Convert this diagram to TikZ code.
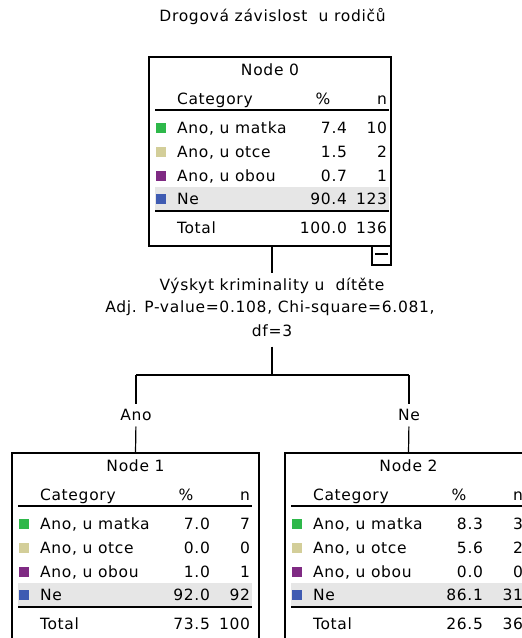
\documentclass[tikz,border=0pt]{standalone}
\usepackage{fontspec}
\setmainfont{DejaVu Sans}[LetterSpace=4.5]
\usetikzlibrary{calc}
\definecolor{cgreen}{HTML}{2EB84A}
\definecolor{ctan}{HTML}{D3CE99}
\definecolor{cpurple}{HTML}{7F2A83}
\definecolor{cblue}{HTML}{3F5BB2}
\definecolor{cband}{HTML}{E6E6E6}
\tikzset{
  txt/.style={inner sep=0pt, outer sep=0pt, text height=11bp, text depth=0bp,
              font=\fontsize{15.5bp}{18bp}\selectfont},
  boxst/.style={draw=black, line width=1.2bp, inner sep=0pt, outer sep=0pt, fill=none},
  rule/.style={line width=1.2bp},
  conn/.style={line width=1.2bp},
}
% #1 name, #2 width, #3 title
\newcommand{\tablehead}[3]{%
  \fill[cband] (6,130) rectangle (240,153);
  \node[boxst, minimum width=#2bp, minimum height=189bp, anchor=north west] (#1) at (0,0) {};
  \node[txt] (#1-t) at (#2/2,13) {#3};
  \node[txt, anchor=west] (#1-cat) at (28,42) {Category};
  \node[txt] (#1-pc) at (174,42) {\%};
  \node[txt, anchor=east] (#1-nn) at (238,42) {n};
  \draw[rule] (6,53) -- (240,53);
  \draw[rule] (6,154) -- (240,154);
}
% #1 id, #2 y, #3 colour, #4 label, #5 percent, #6 n
\newcommand{\trow}[6]{%
  \fill[#3] (6.5,#2-5) rectangle (16.5,#2+5);
  \node[txt, anchor=west] (#1-l) at (28,#2) {#4};
  \node[txt, anchor=east] (#1-p) at (198,#2) {#5};
  \node[txt, anchor=east] (#1-n) at (238,#2) {#6};
}
% #1 id, #2 percent, #3 n
\newcommand{\ttotal}[3]{%
  \node[txt, anchor=west] (#1-l) at (28,171) {Total};
  \node[txt, anchor=east] (#1-p) at (198,171) {#2};
  \node[txt, anchor=east] (#1-n) at (238,171) {#3};
}
\begin{document}
\begin{tikzpicture}[x=1bp, y=-1bp]
\path[use as bounding box] (0,0) rectangle (522,638);
\clip (0,0) rectangle (522,638);

\node[txt] (title) at (272.5,16) {Drogová závislost\ \ u rodičů};

% Node 0
\begin{scope}[shift={(149,57)}]
  \tablehead{n0}{242}{Node 0}
  \trow{n0a}{71}{cgreen}{Ano, u matka}{7.4}{10}
  \trow{n0b}{95}{ctan}{Ano, u otce}{1.5}{2}
  \trow{n0c}{119}{cpurple}{Ano, u obou}{0.7}{1}
  \trow{n0d}{142}{cblue}{Ne}{90.4}{123}
  \ttotal{n0tot}{100.0}{136}
\end{scope}
\node[boxst, minimum width=19bp, minimum height=19bp, anchor=north east] (m0) at (n0.south east) {};
\draw[line width=1.3bp] ($(m0.center)+(-6.5,-1.5)$) -- ($(m0.center)+(6.5,-1.5)$);

% Node 1
\begin{scope}[shift={(12,453)}]
  \tablehead{n1}{247}{Node 1}
  \trow{n1a}{71}{cgreen}{Ano, u matka}{7.0}{7}
  \trow{n1b}{95}{ctan}{Ano, u otce}{0.0}{0}
  \trow{n1c}{119}{cpurple}{Ano, u obou}{1.0}{1}
  \trow{n1d}{142}{cblue}{Ne}{92.0}{92}
  \ttotal{n1tot}{73.5}{100}
\end{scope}

% Node 2
\begin{scope}[shift={(285,453)}]
  \tablehead{n2}{247}{Node 2}
  \trow{n2a}{71}{cgreen}{Ano, u matka}{8.3}{3}
  \trow{n2b}{95}{ctan}{Ano, u otce}{5.6}{2}
  \trow{n2c}{119}{cpurple}{Ano, u obou}{0.0}{0}
  \trow{n2d}{142}{cblue}{Ne}{86.1}{31}
  \ttotal{n2tot}{26.5}{36}
\end{scope}

% split label
\node[txt] (s1) at (272,285) {Výskyt kriminality u\ \ dítěte};
\node[txt] (s2) at (270,307) {Adj. P-value=0.108, Chi-square=6.081,};
\node[txt] (s3) at (272,331) {df=3};
\coordinate (j) at (272,375);
\node[txt] (ano) at (136,415) {Ano};
\node[txt] (ne) at (409,415) {Ne};
\coordinate (jl) at (ano.north |- j);
\coordinate (jr) at (ne.north |- j);

\draw[conn, shorten >=7bp] (n0.south -| s1.north) -- (s1.north);
\draw[conn, shorten <=10bp] (s3.south) -- (j);
\draw[conn] (jl) -- (jr);
\draw[conn, shorten >=6bp] (jl) -- (ano.north);
\draw[conn, shorten >=6bp] (jr) -- (ne.north);
\draw[conn, shorten <=6bp] (ano.south) -- (n1.north);
\draw[conn, shorten <=6bp] (ne.south) -- (n2.north);
\end{tikzpicture}
\end{document}
